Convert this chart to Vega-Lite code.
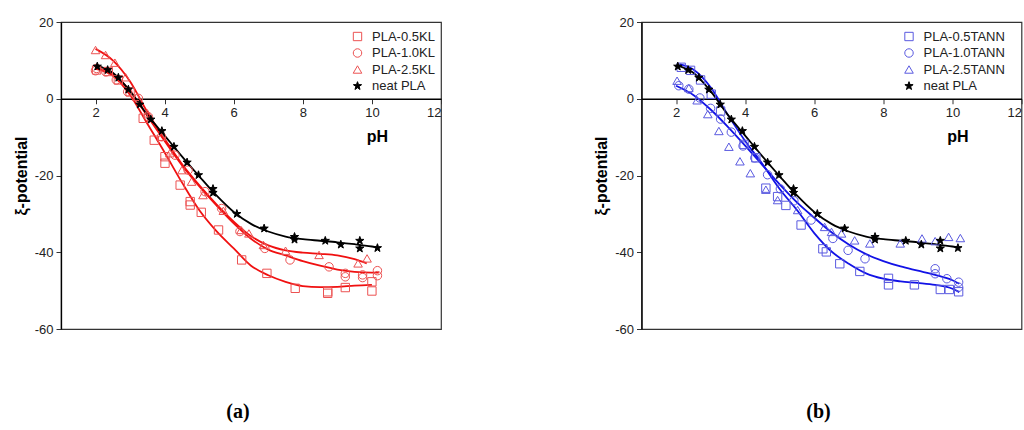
{
  "$schema": "https://vega.github.io/schema/vega-lite/v6.json",
  "background": "white",
  "padding": {"left": 12, "top": 15, "right": 0, "bottom": 0},
  "spacing": 149.5,
  "config": {
    "font": "Liberation Sans",
    "view": {"stroke": "#333", "strokeWidth": 1.2},
    "axis": {"grid": false, "domainColor": "#000", "domainWidth": 1.3, "tickColor": "#333", "labelFontSize": 13, "labelColor": "#222", "labelFont": "Liberation Sans", "titleFont": "Liberation Sans", "titleColor": "#000"},
    "legend": {"orient": "none", "legendY": 8, "labelFontSize": 13, "labelFont": "Liberation Sans", "labelColor": "#222", "rowPadding": 2.5, "labelOffset": 8, "symbolStrokeWidth": 1},
    "title": {"font": "Liberation Serif", "fontSize": 20, "fontWeight": "bold", "color": "#000"}
  },
  "datasets": {
    "kl_pts": [
      {"pH": 2.03, "zeta": 7.5, "series": "PLA-0.5KL"}, {"pH": 2.37, "zeta": 7.1, "series": "PLA-0.5KL"}, {"pH": 2.66, "zeta": 4.9, "series": "PLA-0.5KL"}, {"pH": 3.0, "zeta": 1.8, "series": "PLA-0.5KL"}, {"pH": 3.38, "zeta": -5.1, "series": "PLA-0.5KL"}, {"pH": 3.7, "zeta": -10.8, "series": "PLA-0.5KL"}, {"pH": 4.01, "zeta": -16.8, "series": "PLA-0.5KL"}, {"pH": 4.01, "zeta": -15.1, "series": "PLA-0.5KL"}, {"pH": 4.45, "zeta": -22.5, "series": "PLA-0.5KL"}, {"pH": 4.74, "zeta": -26.8, "series": "PLA-0.5KL"}, {"pH": 4.74, "zeta": -27.7, "series": "PLA-0.5KL"}, {"pH": 5.06, "zeta": -29.6, "series": "PLA-0.5KL"}, {"pH": 5.56, "zeta": -34.2, "series": "PLA-0.5KL"}, {"pH": 6.23, "zeta": -42.0, "series": "PLA-0.5KL"}, {"pH": 6.96, "zeta": -45.5, "series": "PLA-0.5KL"}, {"pH": 7.78, "zeta": -49.4, "series": "PLA-0.5KL"}, {"pH": 8.72, "zeta": -50.3, "series": "PLA-0.5KL"}, {"pH": 8.72, "zeta": -50.7, "series": "PLA-0.5KL"}, {"pH": 9.23, "zeta": -49.2, "series": "PLA-0.5KL"}, {"pH": 10.0, "zeta": -47.7, "series": "PLA-0.5KL"}, {"pH": 10.0, "zeta": -50.1, "series": "PLA-0.5KL"},
      {"pH": 2.0, "zeta": 7.3, "series": "PLA-1.0KL"}, {"pH": 2.03, "zeta": 7.9, "series": "PLA-1.0KL"}, {"pH": 2.3, "zeta": 7.0, "series": "PLA-1.0KL"}, {"pH": 2.6, "zeta": 4.9, "series": "PLA-1.0KL"}, {"pH": 2.93, "zeta": 1.8, "series": "PLA-1.0KL"}, {"pH": 3.24, "zeta": 0.1, "series": "PLA-1.0KL"}, {"pH": 3.53, "zeta": -4.7, "series": "PLA-1.0KL"}, {"pH": 3.91, "zeta": -9.9, "series": "PLA-1.0KL"}, {"pH": 4.3, "zeta": -14.7, "series": "PLA-1.0KL"}, {"pH": 4.68, "zeta": -18.6, "series": "PLA-1.0KL"}, {"pH": 5.17, "zeta": -24.2, "series": "PLA-1.0KL"}, {"pH": 5.65, "zeta": -28.6, "series": "PLA-1.0KL"}, {"pH": 6.18, "zeta": -34.6, "series": "PLA-1.0KL"}, {"pH": 6.9, "zeta": -39.0, "series": "PLA-1.0KL"}, {"pH": 7.63, "zeta": -42.0, "series": "PLA-1.0KL"}, {"pH": 8.76, "zeta": -43.8, "series": "PLA-1.0KL"}, {"pH": 9.23, "zeta": -45.5, "series": "PLA-1.0KL"}, {"pH": 9.23, "zeta": -46.4, "series": "PLA-1.0KL"}, {"pH": 9.73, "zeta": -45.9, "series": "PLA-1.0KL"}, {"pH": 9.73, "zeta": -46.6, "series": "PLA-1.0KL"}, {"pH": 10.16, "zeta": -44.8, "series": "PLA-1.0KL"}, {"pH": 10.16, "zeta": -46.1, "series": "PLA-1.0KL"},
      {"pH": 2.0, "zeta": 12.7, "series": "PLA-2.5KL"}, {"pH": 2.29, "zeta": 11.4, "series": "PLA-2.5KL"}, {"pH": 2.56, "zeta": 9.4, "series": "PLA-2.5KL"}, {"pH": 2.87, "zeta": 5.6, "series": "PLA-2.5KL"}, {"pH": 3.19, "zeta": 0.5, "series": "PLA-2.5KL"}, {"pH": 3.5, "zeta": -3.8, "series": "PLA-2.5KL"}, {"pH": 3.9, "zeta": -9.9, "series": "PLA-2.5KL"}, {"pH": 4.15, "zeta": -14.2, "series": "PLA-2.5KL"}, {"pH": 4.5, "zeta": -18.6, "series": "PLA-2.5KL"}, {"pH": 4.78, "zeta": -21.6, "series": "PLA-2.5KL"}, {"pH": 5.11, "zeta": -25.1, "series": "PLA-2.5KL"}, {"pH": 5.7, "zeta": -29.2, "series": "PLA-2.5KL"}, {"pH": 6.21, "zeta": -34.2, "series": "PLA-2.5KL"}, {"pH": 6.44, "zeta": -35.1, "series": "PLA-2.5KL"}, {"pH": 6.86, "zeta": -38.1, "series": "PLA-2.5KL"}, {"pH": 7.5, "zeta": -39.6, "series": "PLA-2.5KL"}, {"pH": 8.47, "zeta": -40.7, "series": "PLA-2.5KL"}, {"pH": 9.6, "zeta": -42.9, "series": "PLA-2.5KL"}, {"pH": 9.86, "zeta": -41.6, "series": "PLA-2.5KL"},
      {"pH": 2.05, "zeta": 8.4, "series": "neat PLA"}, {"pH": 2.35, "zeta": 7.5, "series": "neat PLA"}, {"pH": 2.66, "zeta": 5.5, "series": "neat PLA"}, {"pH": 2.95, "zeta": 2.4, "series": "neat PLA"}, {"pH": 3.28, "zeta": -1.5, "series": "neat PLA"}, {"pH": 3.6, "zeta": -5.4, "series": "neat PLA"}, {"pH": 3.92, "zeta": -8.4, "series": "neat PLA"}, {"pH": 4.27, "zeta": -12.5, "series": "neat PLA"}, {"pH": 4.65, "zeta": -16.6, "series": "neat PLA"}, {"pH": 4.98, "zeta": -19.9, "series": "neat PLA"}, {"pH": 5.4, "zeta": -23.5, "series": "neat PLA"}, {"pH": 5.4, "zeta": -24.5, "series": "neat PLA"}, {"pH": 6.09, "zeta": -30.0, "series": "neat PLA"}, {"pH": 6.88, "zeta": -33.8, "series": "neat PLA"}, {"pH": 7.76, "zeta": -36.0, "series": "neat PLA"}, {"pH": 7.76, "zeta": -36.7, "series": "neat PLA"}, {"pH": 8.65, "zeta": -37.0, "series": "neat PLA"}, {"pH": 9.1, "zeta": -38.0, "series": "neat PLA"}, {"pH": 9.65, "zeta": -37.0, "series": "neat PLA"}, {"pH": 9.65, "zeta": -39.0, "series": "neat PLA"}, {"pH": 10.16, "zeta": -38.9, "series": "neat PLA"}
    ],
    "kl_curves": [
      {"pH": 2.0, "zeta": 7.8, "curve": "0.5KL"}, {"pH": 2.5, "zeta": 6.0, "curve": "0.5KL"}, {"pH": 3.0, "zeta": 1.0, "curve": "0.5KL"}, {"pH": 3.5, "zeta": -6.5, "curve": "0.5KL"}, {"pH": 4.0, "zeta": -14.0, "curve": "0.5KL"}, {"pH": 4.5, "zeta": -21.8, "curve": "0.5KL"}, {"pH": 5.0, "zeta": -29.0, "curve": "0.5KL"}, {"pH": 5.5, "zeta": -34.5, "curve": "0.5KL"}, {"pH": 6.0, "zeta": -39.0, "curve": "0.5KL"}, {"pH": 6.5, "zeta": -43.5, "curve": "0.5KL"}, {"pH": 7.0, "zeta": -46.0, "curve": "0.5KL"}, {"pH": 7.5, "zeta": -47.7, "curve": "0.5KL"}, {"pH": 8.0, "zeta": -48.8, "curve": "0.5KL"}, {"pH": 8.5, "zeta": -49.1, "curve": "0.5KL"}, {"pH": 9.0, "zeta": -49.0, "curve": "0.5KL"}, {"pH": 9.5, "zeta": -48.7, "curve": "0.5KL"}, {"pH": 10.0, "zeta": -48.5, "curve": "0.5KL"},
      {"pH": 2.0, "zeta": 8.0, "curve": "1.0KL"}, {"pH": 2.5, "zeta": 6.5, "curve": "1.0KL"}, {"pH": 3.0, "zeta": 2.0, "curve": "1.0KL"}, {"pH": 3.5, "zeta": -4.5, "curve": "1.0KL"}, {"pH": 4.0, "zeta": -11.0, "curve": "1.0KL"}, {"pH": 4.5, "zeta": -17.3, "curve": "1.0KL"}, {"pH": 5.0, "zeta": -22.8, "curve": "1.0KL"}, {"pH": 5.5, "zeta": -27.8, "curve": "1.0KL"}, {"pH": 6.0, "zeta": -32.5, "curve": "1.0KL"}, {"pH": 6.5, "zeta": -36.5, "curve": "1.0KL"}, {"pH": 7.0, "zeta": -39.3, "curve": "1.0KL"}, {"pH": 7.5, "zeta": -40.8, "curve": "1.0KL"}, {"pH": 8.0, "zeta": -42.3, "curve": "1.0KL"}, {"pH": 8.5, "zeta": -43.5, "curve": "1.0KL"}, {"pH": 9.0, "zeta": -44.5, "curve": "1.0KL"}, {"pH": 9.5, "zeta": -45.1, "curve": "1.0KL"}, {"pH": 10.0, "zeta": -45.3, "curve": "1.0KL"}, {"pH": 10.2, "zeta": -45.3, "curve": "1.0KL"},
      {"pH": 2.0, "zeta": 13.0, "curve": "2.5KL"}, {"pH": 2.5, "zeta": 10.0, "curve": "2.5KL"}, {"pH": 3.0, "zeta": 4.5, "curve": "2.5KL"}, {"pH": 3.5, "zeta": -3.5, "curve": "2.5KL"}, {"pH": 4.0, "zeta": -10.5, "curve": "2.5KL"}, {"pH": 4.5, "zeta": -17.0, "curve": "2.5KL"}, {"pH": 5.0, "zeta": -22.5, "curve": "2.5KL"}, {"pH": 5.5, "zeta": -27.5, "curve": "2.5KL"}, {"pH": 6.0, "zeta": -32.0, "curve": "2.5KL"}, {"pH": 6.5, "zeta": -35.8, "curve": "2.5KL"}, {"pH": 7.0, "zeta": -38.2, "curve": "2.5KL"}, {"pH": 7.5, "zeta": -39.5, "curve": "2.5KL"}, {"pH": 8.0, "zeta": -40.1, "curve": "2.5KL"}, {"pH": 8.5, "zeta": -40.4, "curve": "2.5KL"}, {"pH": 9.0, "zeta": -40.8, "curve": "2.5KL"}, {"pH": 9.5, "zeta": -41.8, "curve": "2.5KL"}, {"pH": 9.85, "zeta": -42.9, "curve": "2.5KL"},
      {"pH": 2.0, "zeta": 8.7, "curve": "neat"}, {"pH": 2.5, "zeta": 6.8, "curve": "neat"}, {"pH": 3.0, "zeta": 2.0, "curve": "neat"}, {"pH": 3.5, "zeta": -4.2, "curve": "neat"}, {"pH": 4.0, "zeta": -9.6, "curve": "neat"}, {"pH": 4.5, "zeta": -15.0, "curve": "neat"}, {"pH": 5.0, "zeta": -20.2, "curve": "neat"}, {"pH": 5.5, "zeta": -25.2, "curve": "neat"}, {"pH": 6.0, "zeta": -29.5, "curve": "neat"}, {"pH": 6.5, "zeta": -32.6, "curve": "neat"}, {"pH": 7.0, "zeta": -34.6, "curve": "neat"}, {"pH": 7.5, "zeta": -35.9, "curve": "neat"}, {"pH": 8.0, "zeta": -36.6, "curve": "neat"}, {"pH": 8.5, "zeta": -37.0, "curve": "neat"}, {"pH": 9.0, "zeta": -37.4, "curve": "neat"}, {"pH": 9.5, "zeta": -37.9, "curve": "neat"}, {"pH": 10.0, "zeta": -38.5, "curve": "neat"}, {"pH": 10.2, "zeta": -38.8, "curve": "neat"}
    ],
    "tann_pts": [
      {"pH": 2.15, "zeta": 8.2, "series": "PLA-0.5TANN"}, {"pH": 2.42, "zeta": 7.4, "series": "PLA-0.5TANN"}, {"pH": 2.71, "zeta": 4.9, "series": "PLA-0.5TANN"}, {"pH": 3.02, "zeta": 1.2, "series": "PLA-0.5TANN"}, {"pH": 3.29, "zeta": -3.2, "series": "PLA-0.5TANN"}, {"pH": 3.97, "zeta": -11.9, "series": "PLA-0.5TANN"}, {"pH": 4.31, "zeta": -15.4, "series": "PLA-0.5TANN"}, {"pH": 4.6, "zeta": -23.3, "series": "PLA-0.5TANN"}, {"pH": 4.94, "zeta": -25.5, "series": "PLA-0.5TANN"}, {"pH": 5.18, "zeta": -27.8, "series": "PLA-0.5TANN"}, {"pH": 5.62, "zeta": -32.9, "series": "PLA-0.5TANN"}, {"pH": 6.25, "zeta": -39.1, "series": "PLA-0.5TANN"}, {"pH": 6.35, "zeta": -39.9, "series": "PLA-0.5TANN"}, {"pH": 6.74, "zeta": -43.0, "series": "PLA-0.5TANN"}, {"pH": 7.32, "zeta": -45.0, "series": "PLA-0.5TANN"}, {"pH": 8.15, "zeta": -46.8, "series": "PLA-0.5TANN"}, {"pH": 8.15, "zeta": -48.5, "series": "PLA-0.5TANN"}, {"pH": 8.9, "zeta": -48.5, "series": "PLA-0.5TANN"}, {"pH": 9.65, "zeta": -49.7, "series": "PLA-0.5TANN"}, {"pH": 9.91, "zeta": -49.7, "series": "PLA-0.5TANN"}, {"pH": 10.18, "zeta": -50.3, "series": "PLA-0.5TANN"},
      {"pH": 2.08, "zeta": 3.4, "series": "PLA-1.0TANN"}, {"pH": 2.37, "zeta": 2.5, "series": "PLA-1.0TANN"}, {"pH": 2.69, "zeta": 0.2, "series": "PLA-1.0TANN"}, {"pH": 3.0, "zeta": -2.5, "series": "PLA-1.0TANN"}, {"pH": 3.29, "zeta": -5.3, "series": "PLA-1.0TANN"}, {"pH": 3.6, "zeta": -8.7, "series": "PLA-1.0TANN"}, {"pH": 3.94, "zeta": -12.3, "series": "PLA-1.0TANN"}, {"pH": 4.28, "zeta": -15.4, "series": "PLA-1.0TANN"}, {"pH": 4.65, "zeta": -19.8, "series": "PLA-1.0TANN"}, {"pH": 5.02, "zeta": -23.5, "series": "PLA-1.0TANN"}, {"pH": 5.41, "zeta": -26.6, "series": "PLA-1.0TANN"}, {"pH": 5.91, "zeta": -31.6, "series": "PLA-1.0TANN"}, {"pH": 6.54, "zeta": -36.4, "series": "PLA-1.0TANN"}, {"pH": 6.98, "zeta": -39.5, "series": "PLA-1.0TANN"}, {"pH": 7.47, "zeta": -41.7, "series": "PLA-1.0TANN"}, {"pH": 9.5, "zeta": -44.3, "series": "PLA-1.0TANN"}, {"pH": 9.5, "zeta": -45.6, "series": "PLA-1.0TANN"}, {"pH": 9.84, "zeta": -46.9, "series": "PLA-1.0TANN"}, {"pH": 10.18, "zeta": -47.8, "series": "PLA-1.0TANN"}, {"pH": 10.18, "zeta": -49.1, "series": "PLA-1.0TANN"},
      {"pH": 2.03, "zeta": 4.7, "series": "PLA-2.5TANN"}, {"pH": 2.37, "zeta": 2.8, "series": "PLA-2.5TANN"}, {"pH": 2.61, "zeta": -0.4, "series": "PLA-2.5TANN"}, {"pH": 2.92, "zeta": -4.0, "series": "PLA-2.5TANN"}, {"pH": 3.24, "zeta": -8.4, "series": "PLA-2.5TANN"}, {"pH": 3.53, "zeta": -12.5, "series": "PLA-2.5TANN"}, {"pH": 3.85, "zeta": -16.3, "series": "PLA-2.5TANN"}, {"pH": 4.15, "zeta": -19.4, "series": "PLA-2.5TANN"}, {"pH": 4.6, "zeta": -23.7, "series": "PLA-2.5TANN"}, {"pH": 4.94, "zeta": -26.4, "series": "PLA-2.5TANN"}, {"pH": 5.52, "zeta": -29.0, "series": "PLA-2.5TANN"}, {"pH": 6.3, "zeta": -33.4, "series": "PLA-2.5TANN"}, {"pH": 6.5, "zeta": -34.7, "series": "PLA-2.5TANN"}, {"pH": 6.79, "zeta": -35.1, "series": "PLA-2.5TANN"}, {"pH": 7.17, "zeta": -36.9, "series": "PLA-2.5TANN"}, {"pH": 7.61, "zeta": -37.7, "series": "PLA-2.5TANN"}, {"pH": 8.49, "zeta": -37.7, "series": "PLA-2.5TANN"}, {"pH": 9.12, "zeta": -36.4, "series": "PLA-2.5TANN"}, {"pH": 9.5, "zeta": -37.1, "series": "PLA-2.5TANN"}, {"pH": 9.89, "zeta": -36.0, "series": "PLA-2.5TANN"}, {"pH": 10.23, "zeta": -36.3, "series": "PLA-2.5TANN"},
      {"pH": 2.05, "zeta": 8.4, "series": "neat PLA"}, {"pH": 2.35, "zeta": 7.5, "series": "neat PLA"}, {"pH": 2.66, "zeta": 5.5, "series": "neat PLA"}, {"pH": 2.95, "zeta": 2.4, "series": "neat PLA"}, {"pH": 3.28, "zeta": -1.5, "series": "neat PLA"}, {"pH": 3.6, "zeta": -5.4, "series": "neat PLA"}, {"pH": 3.92, "zeta": -8.4, "series": "neat PLA"}, {"pH": 4.27, "zeta": -12.5, "series": "neat PLA"}, {"pH": 4.65, "zeta": -16.6, "series": "neat PLA"}, {"pH": 4.98, "zeta": -19.9, "series": "neat PLA"}, {"pH": 5.4, "zeta": -23.5, "series": "neat PLA"}, {"pH": 5.4, "zeta": -24.5, "series": "neat PLA"}, {"pH": 6.09, "zeta": -30.0, "series": "neat PLA"}, {"pH": 6.88, "zeta": -33.8, "series": "neat PLA"}, {"pH": 7.76, "zeta": -36.0, "series": "neat PLA"}, {"pH": 7.76, "zeta": -36.7, "series": "neat PLA"}, {"pH": 8.65, "zeta": -37.0, "series": "neat PLA"}, {"pH": 9.1, "zeta": -38.0, "series": "neat PLA"}, {"pH": 9.65, "zeta": -37.0, "series": "neat PLA"}, {"pH": 9.65, "zeta": -39.0, "series": "neat PLA"}, {"pH": 10.16, "zeta": -38.9, "series": "neat PLA"}
    ],
    "tann_curves": [
      {"pH": 2.1, "zeta": 9.0, "curve": "0.5TANN"}, {"pH": 2.5, "zeta": 7.6, "curve": "0.5TANN"}, {"pH": 3.0, "zeta": 3.0, "curve": "0.5TANN"}, {"pH": 3.5, "zeta": -4.2, "curve": "0.5TANN"}, {"pH": 4.0, "zeta": -11.0, "curve": "0.5TANN"}, {"pH": 4.5, "zeta": -17.0, "curve": "0.5TANN"}, {"pH": 5.0, "zeta": -23.5, "curve": "0.5TANN"}, {"pH": 5.5, "zeta": -29.0, "curve": "0.5TANN"}, {"pH": 6.0, "zeta": -35.0, "curve": "0.5TANN"}, {"pH": 6.5, "zeta": -39.8, "curve": "0.5TANN"}, {"pH": 7.0, "zeta": -43.0, "curve": "0.5TANN"}, {"pH": 7.5, "zeta": -45.5, "curve": "0.5TANN"}, {"pH": 8.0, "zeta": -46.9, "curve": "0.5TANN"}, {"pH": 8.5, "zeta": -47.6, "curve": "0.5TANN"}, {"pH": 9.0, "zeta": -48.0, "curve": "0.5TANN"}, {"pH": 9.5, "zeta": -48.5, "curve": "0.5TANN"}, {"pH": 10.0, "zeta": -49.5, "curve": "0.5TANN"}, {"pH": 10.2, "zeta": -50.4, "curve": "0.5TANN"},
      {"pH": 2.0, "zeta": 3.4, "curve": "1.0TANN"}, {"pH": 2.5, "zeta": 1.0, "curve": "1.0TANN"}, {"pH": 3.0, "zeta": -2.8, "curve": "1.0TANN"}, {"pH": 3.5, "zeta": -7.3, "curve": "1.0TANN"}, {"pH": 4.0, "zeta": -12.2, "curve": "1.0TANN"}, {"pH": 4.5, "zeta": -17.3, "curve": "1.0TANN"}, {"pH": 5.0, "zeta": -22.3, "curve": "1.0TANN"}, {"pH": 5.5, "zeta": -27.0, "curve": "1.0TANN"}, {"pH": 6.0, "zeta": -31.0, "curve": "1.0TANN"}, {"pH": 6.5, "zeta": -34.8, "curve": "1.0TANN"}, {"pH": 7.0, "zeta": -38.0, "curve": "1.0TANN"}, {"pH": 7.5, "zeta": -40.5, "curve": "1.0TANN"}, {"pH": 8.0, "zeta": -42.3, "curve": "1.0TANN"}, {"pH": 8.5, "zeta": -43.7, "curve": "1.0TANN"}, {"pH": 9.0, "zeta": -44.8, "curve": "1.0TANN"}, {"pH": 9.5, "zeta": -45.9, "curve": "1.0TANN"}, {"pH": 10.0, "zeta": -47.3, "curve": "1.0TANN"}, {"pH": 10.2, "zeta": -48.2, "curve": "1.0TANN"},
      {"pH": 2.0, "zeta": 8.7, "curve": "neat"}, {"pH": 2.5, "zeta": 6.8, "curve": "neat"}, {"pH": 3.0, "zeta": 2.0, "curve": "neat"}, {"pH": 3.5, "zeta": -4.2, "curve": "neat"}, {"pH": 4.0, "zeta": -9.6, "curve": "neat"}, {"pH": 4.5, "zeta": -15.0, "curve": "neat"}, {"pH": 5.0, "zeta": -20.2, "curve": "neat"}, {"pH": 5.5, "zeta": -25.2, "curve": "neat"}, {"pH": 6.0, "zeta": -29.5, "curve": "neat"}, {"pH": 6.5, "zeta": -32.6, "curve": "neat"}, {"pH": 7.0, "zeta": -34.6, "curve": "neat"}, {"pH": 7.5, "zeta": -35.9, "curve": "neat"}, {"pH": 8.0, "zeta": -36.6, "curve": "neat"}, {"pH": 8.5, "zeta": -37.0, "curve": "neat"}, {"pH": 9.0, "zeta": -37.4, "curve": "neat"}, {"pH": 9.5, "zeta": -37.9, "curve": "neat"}, {"pH": 10.0, "zeta": -38.5, "curve": "neat"}, {"pH": 10.2, "zeta": -38.8, "curve": "neat"}
    ]
  },
  "hconcat": [
    {
      "width": 380,
      "height": 307,
      "title": {"text": "(a)", "orient": "bottom", "offset": 66, "anchor": "middle", "frame": "group", "dx": -13},
      "layer": [
        {
          "data": {"name": "kl_curves"},
          "mark": {"type": "line", "interpolate": "monotone", "strokeWidth": 1.8},
          "encoding": {
            "x": {"field": "pH", "type": "quantitative", "scale": {"domain": [1, 12], "nice": false},
              "axis": {"values": [2, 3, 4, 5, 6, 7, 8, 9, 10, 11, 12], "labelExpr": "datum.value % 2 === 0 ? '' + datum.value : ''", "offset": -230.25, "title": "pH", "titleX": 316, "titleY": 38, "titleBaseline": "middle", "titleAlign": "center", "titleFontWeight": "bold", "titleFontSize": 16, "tickSize": {"condition": {"test": "datum.value % 2 === 0", "value": 5}, "value": 3}, "labelPadding": 3}},
            "y": {"field": "zeta", "type": "quantitative", "scale": {"domain": [-60, 20], "nice": false},
              "axis": {"values": [-60, -55, -50, -45, -40, -35, -30, -25, -20, -15, -10, -5, 0, 5, 10, 15, 20], "labelExpr": "datum.value % 10 === 0 ? '' + datum.value : ''", "title": "ξ-potential", "titleFontWeight": "bold", "titleFontSize": 16, "titlePadding": 5, "tickSize": {"condition": {"test": "datum.value % 10 === 0", "value": 5}, "value": 3}, "labelPadding": 3}},
            "color": {"field": "curve", "type": "nominal", "scale": {"domain": ["0.5KL", "1.0KL", "2.5KL", "neat"], "range": ["#f01010", "#f01010", "#f01010", "#000000"]}, "legend": null}
          }
        },
        {
          "data": {"name": "kl_pts"},
          "mark": {"type": "point", "strokeWidth": 1, "opacity": 1},
          "encoding": {
            "x": {"field": "pH", "type": "quantitative"},
            "y": {"field": "zeta", "type": "quantitative"},
            "shape": {"field": "series", "type": "nominal", "scale": {"domain": ["PLA-0.5KL", "PLA-1.0KL", "PLA-2.5KL", "neat PLA"], "range": ["square", "circle", "triangle-up", "M0,-1L0.235,-0.324L0.951,-0.309L0.38,0.124L0.588,0.809L0,0.4L-0.588,0.809L-0.38,0.124L-0.951,-0.309L-0.235,-0.324Z"]}, "legend": {"title": null, "legendX": 290}},
            "stroke": {"field": "series", "type": "nominal", "scale": {"domain": ["PLA-0.5KL", "PLA-1.0KL", "PLA-2.5KL", "neat PLA"], "range": ["#ec5252", "#ec5252", "#ec5252", "#000000"]}, "legend": {"title": null, "legendX": 290}},
            "fill": {"field": "series", "type": "nominal", "scale": {"domain": ["PLA-0.5KL", "PLA-1.0KL", "PLA-2.5KL", "neat PLA"], "range": ["transparent", "transparent", "transparent", "#000000"]}, "legend": {"title": null, "legendX": 290}},
            "size": {"field": "series", "type": "nominal", "scale": {"domain": ["PLA-0.5KL", "PLA-1.0KL", "PLA-2.5KL", "neat PLA"], "range": [70, 75, 95, 130]}, "legend": {"title": null, "legendX": 290}}
          }
        }
      ]
    },
    {
      "width": 380,
      "height": 307,
      "title": {"text": "(b)", "orient": "bottom", "offset": 66, "anchor": "middle", "frame": "group", "dx": -13},
      "layer": [
        {
          "data": {"name": "tann_curves"},
          "mark": {"type": "line", "interpolate": "monotone", "strokeWidth": 1.8},
          "encoding": {
            "x": {"field": "pH", "type": "quantitative", "scale": {"domain": [1, 12], "nice": false},
              "axis": {"values": [2, 3, 4, 5, 6, 7, 8, 9, 10, 11, 12], "labelExpr": "datum.value % 2 === 0 ? '' + datum.value : ''", "offset": -230.25, "title": "pH", "titleX": 316, "titleY": 38, "titleBaseline": "middle", "titleAlign": "center", "titleFontWeight": "bold", "titleFontSize": 16, "tickSize": {"condition": {"test": "datum.value % 2 === 0", "value": 5}, "value": 3}, "labelPadding": 3}},
            "y": {"field": "zeta", "type": "quantitative", "scale": {"domain": [-60, 20], "nice": false},
              "axis": {"values": [-60, -55, -50, -45, -40, -35, -30, -25, -20, -15, -10, -5, 0, 5, 10, 15, 20], "labelExpr": "datum.value % 10 === 0 ? '' + datum.value : ''", "title": "ξ-potential", "titleFontWeight": "bold", "titleFontSize": 16, "titlePadding": 5, "tickSize": {"condition": {"test": "datum.value % 10 === 0", "value": 5}, "value": 3}, "labelPadding": 3}},
            "color": {"field": "curve", "type": "nominal", "scale": {"domain": ["0.5TANN", "1.0TANN", "neat"], "range": ["#1212e6", "#1212e6", "#000000"]}, "legend": null}
          }
        },
        {
          "data": {"name": "tann_pts"},
          "mark": {"type": "point", "strokeWidth": 1, "opacity": 1},
          "encoding": {
            "x": {"field": "pH", "type": "quantitative"},
            "y": {"field": "zeta", "type": "quantitative"},
            "shape": {"field": "series", "type": "nominal", "scale": {"domain": ["PLA-0.5TANN", "PLA-1.0TANN", "PLA-2.5TANN", "neat PLA"], "range": ["square", "circle", "triangle-up", "M0,-1L0.235,-0.324L0.951,-0.309L0.38,0.124L0.588,0.809L0,0.4L-0.588,0.809L-0.38,0.124L-0.951,-0.309L-0.235,-0.324Z"]}, "legend": {"title": null, "legendX": 261}},
            "stroke": {"field": "series", "type": "nominal", "scale": {"domain": ["PLA-0.5TANN", "PLA-1.0TANN", "PLA-2.5TANN", "neat PLA"], "range": ["#5a5ae0", "#5a5ae0", "#5a5ae0", "#000000"]}, "legend": {"title": null, "legendX": 261}},
            "fill": {"field": "series", "type": "nominal", "scale": {"domain": ["PLA-0.5TANN", "PLA-1.0TANN", "PLA-2.5TANN", "neat PLA"], "range": ["transparent", "transparent", "transparent", "#000000"]}, "legend": {"title": null, "legendX": 261}},
            "size": {"field": "series", "type": "nominal", "scale": {"domain": ["PLA-0.5TANN", "PLA-1.0TANN", "PLA-2.5TANN", "neat PLA"], "range": [70, 75, 95, 130]}, "legend": {"title": null, "legendX": 261}}
          }
        }
      ]
    }
  ],
  "resolve": {"scale": {"color": "independent", "shape": "independent", "stroke": "independent", "fill": "independent", "size": "independent"}, "legend": {"shape": "independent", "stroke": "independent", "fill": "independent", "size": "independent"}}
}
